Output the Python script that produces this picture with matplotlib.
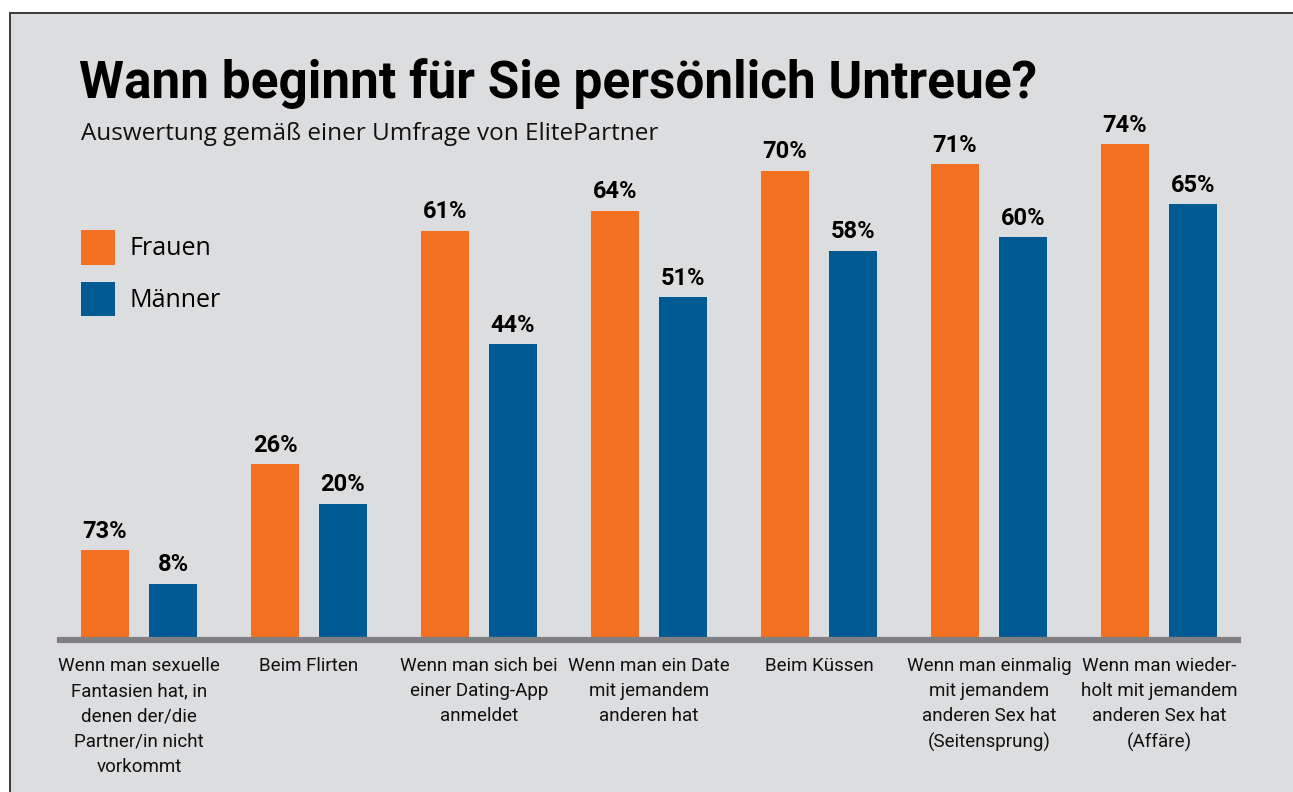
import matplotlib
matplotlib.use("Agg")
import matplotlib.pyplot as plt
from matplotlib.patches import Rectangle
import numpy as np

categories = [
    "Wenn man sexuelle\nFantasien hat, in\ndenen der/die\nPartner/in nicht\nvorkommt",
    "Beim Flirten",
    "Wenn man sich bei\neiner Dating-App\nanmeldet",
    "Wenn man ein Date\nmit jemandem\nanderen hat",
    "Beim Küssen",
    "Wenn man einmalig\nmit jemandem\nanderen Sex hat\n(Seitensprung)",
    "Wenn man wieder-\nholt mit jemandem\nanderen Sex hat\n(Affäre)",
]
# bar heights as drawn in the picture (first orange bar is drawn short)
frauen = [13, 26, 61, 64, 70, 71, 74]
maenner = [8, 20, 44, 51, 58, 60, 65]
# printed labels
frauen_labels = ["73%", "26%", "61%", "64%", "70%", "71%", "74%"]
maenner_labels = ["8%", "20%", "44%", "51%", "58%", "60%", "65%"]

ORANGE = "#f37021"
BLUE = "#005a94"
BG = "#dcdddf"
W, H = 1293, 792

fig = plt.figure(figsize=(W / 100, H / 100), dpi=100)
fig.patch.set_facecolor("white")
fig.add_artist(Rectangle((10 / W, -0.05), 1.1, 1 - 13 / H + 0.05,
                         transform=fig.transFigure, facecolor=BG,
                         edgecolor="#3a3a3a", lw=1.4, zorder=0))

base_px, top_px = 637, 100
ax = fig.add_axes([60 / W, 1 - base_px / H, (1238 - 60) / W, (base_px - top_px) / H])
ax.set_facecolor("none")
x = np.arange(len(categories))
bw = 48 / 170
off = 0.2
ax.bar(x - off, frauen, bw, color=ORANGE, label="Frauen")
ax.bar(x + off, maenner, bw, color=BLUE, label="Männer")
ax.set_xlim(-0.4647, 6.4647)
ax.set_ylim(0, (base_px - top_px) / 6.66)

for xi, v, t in zip(x - off, frauen, frauen_labels):
    ax.text(xi, v + 1.1, t, ha="center", va="bottom", fontsize=17,
            fontweight="bold", family="Roboto", color="black")
for xi, v, t in zip(x + off, maenner, maenner_labels):
    ax.text(xi, v + 1.1, t, ha="center", va="bottom", fontsize=17,
            fontweight="bold", family="Roboto", color="black")

for s in ["top", "right", "left"]:
    ax.spines[s].set_visible(False)
ax.spines["bottom"].set_color("#808083")
ax.spines["bottom"].set_linewidth(4.5)
ax.spines["bottom"].set_position(("outward", 2.2))
ax.set_yticks([])
ax.set_xticks(x)
ax.set_xticklabels(categories, fontsize=13.5, family="Roboto",
                   linespacing=1.52, color="#111111")
ax.tick_params(axis="x", length=0, pad=12)

fig.text(79 / W, 1 - 98 / H, "Wann beginnt für Sie persönlich Untreue?",
         fontsize=37, fontweight="bold", family="Roboto", va="baseline")
fig.text(81 / W, 1 - 140 / H, "Auswertung gemäß einer Umfrage von ElitePartner",
         fontsize=17.5, family="Open Sans", va="baseline", color="#111111")

leg = ax.legend(loc="upper left",
                bbox_to_anchor=(21 / 1178, (base_px - 230) / (base_px - top_px)),
                frameon=False, fontsize=18, handlelength=1.36, handleheight=1.75,
                handletextpad=0.6, labelspacing=0.68, borderpad=0, borderaxespad=0)
for t in leg.get_texts():
    t.set_family("Open Sans")

fig.savefig("out.png", dpi=100, facecolor=fig.get_facecolor())
